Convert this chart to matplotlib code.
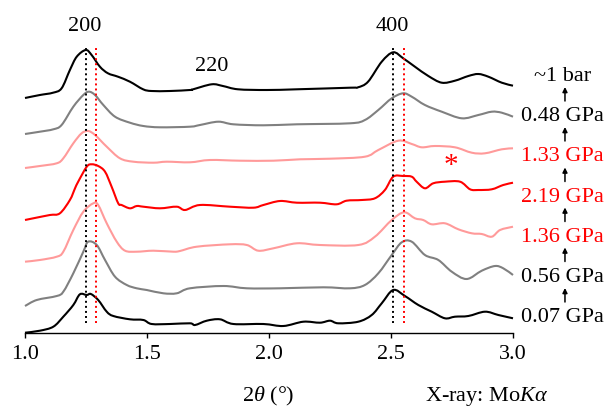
import matplotlib
matplotlib.use("Agg")
import matplotlib.pyplot as plt
from matplotlib.path import Path
from matplotlib.patches import PathPatch

plt.rcParams['font.family'] = ['Liberation Serif', 'DejaVu Serif']
plt.rcParams['mathtext.fontset'] = 'custom'
plt.rcParams['mathtext.rm'] = 'Liberation Serif'
plt.rcParams['mathtext.it'] = 'Liberation Serif:italic'

# XRD scans, 2theta (deg) and intensity (arb. units), bottom to top of the stack
tt_007 = [1.00, 1.061, 1.116, 1.157, 1.198, 1.225, 1.253, 1.270, 1.300, 1.335, 1.362, 1.430, 1.485,
          1.519, 1.594, 1.676, 1.697, 1.745, 1.799, 1.854, 1.977, 2.059, 2.141, 2.209, 2.250, 2.284,
          2.366, 2.421, 2.462, 2.509, 2.557, 2.612, 2.667, 2.721, 2.762, 2.817, 2.885, 2.940, 3.00]
int_007 = [0.3, 2.3, 6.3, 16.3, 28, 38.7, 38, 39, 33, 21.3, 17, 13.7, 13,
           9, 9, 9.7, 8, 12.3, 13.7, 9, 9, 7, 11.3, 10.3, 12.3, 9.7,
           11.3, 18, 29.7, 43, 37, 28, 21.3, 14.7, 16.3, 17, 21.3, 18, 14.7]

tt_056 = [1.00, 1.048, 1.130, 1.157, 1.198, 1.239, 1.259, 1.294, 1.328, 1.369, 1.417, 1.458, 1.499,
          1.567, 1.622, 1.676, 1.813, 1.909, 2.045, 2.223, 2.332, 2.393, 2.448, 2.503, 2.544, 2.585,
          2.639, 2.694, 2.749, 2.810, 2.872, 2.926, 2.960, 3.00]
int_056 = [0, 6, 10, 14.3, 32.7, 54.3, 64.3, 61, 46, 29.3, 21, 17.7, 16,
           12.7, 12.7, 17.7, 20, 17.7, 17.7, 18.7, 17.7, 21, 32.7, 51, 63.7, 64.3,
           51, 46, 34.3, 27, 35.3, 40, 37.7, 31]

tt_136 = [1.00, 1.061, 1.130, 1.157, 1.198, 1.239, 1.280, 1.300, 1.335, 1.376, 1.410, 1.458, 1.526,
          1.608, 1.635, 1.704, 1.840, 1.909, 1.956, 2.018, 2.114, 2.209, 2.366, 2.434, 2.503, 2.554,
          2.598, 2.632, 2.667, 2.721, 2.776, 2.831, 2.872, 2.913, 2.947, 3.00]
int_136 = [0.3, 2, 5.3, 10.3, 32, 50.3, 58.7, 57, 38.7, 20.3, 11.3, 10.3, 11.3,
           10.3, 11, 15.3, 17.7, 17, 11.3, 13.7, 18.7, 17, 17, 25.3, 42, 49.7,
           43.7, 42, 37.7, 38.7, 32.7, 28.7, 28, 25.3, 32, 35.3]

tt_219 = [1.00, 1.034, 1.102, 1.143, 1.184, 1.205, 1.218, 1.253, 1.273, 1.300, 1.328, 1.355, 1.382,
          1.396, 1.430, 1.458, 1.485, 1.553, 1.622, 1.656, 1.717, 1.840, 1.936, 1.977, 2.045, 2.114,
          2.209, 2.277, 2.318, 2.380, 2.434, 2.475, 2.509, 2.550, 2.585, 2.605, 2.639, 2.673, 2.721,
          2.783, 2.824, 2.858, 2.913, 2.960, 3.00]
int_219 = [0, 1.7, 5, 6.7, 20, 31.7, 38.3, 53.3, 55.7, 54, 48.3, 33.3, 16.7,
           15, 11.7, 14, 13.3, 11.7, 13.3, 10, 15, 13.3, 12.3, 15, 19, 17.3,
           17.3, 15.7, 19.3, 20, 21.7, 30, 43.3, 44, 43.3, 38.3, 31.7, 36.7, 38.3,
           38.3, 30.7, 30, 30.7, 35, 37.3]

tt_133 = [1.00, 1.061, 1.130, 1.157, 1.198, 1.232, 1.259, 1.287, 1.335, 1.389, 1.444, 1.526, 1.581,
          1.676, 1.758, 1.881, 2.018, 2.127, 2.250, 2.393, 2.448, 2.530, 2.585, 2.626, 2.680, 2.762,
          2.831, 2.885, 2.954, 3.00]
int_133 = [0, 2, 4.7, 9.7, 24.7, 34.7, 37, 33, 21.3, 9.7, 6.3, 5.3, 6.3,
           5.7, 8, 7.3, 7.3, 8.7, 9.3, 11.3, 18, 27.3, 24, 20.7, 22, 20.7,
           15.3, 14.7, 18.7, 19.7]

tt_048 = [1.00, 1.061, 1.116, 1.150, 1.198, 1.239, 1.262, 1.287, 1.321, 1.369, 1.430, 1.485, 1.553,
          1.676, 1.717, 1.792, 1.854, 1.977, 2.114, 2.332, 2.393, 2.448, 2.503, 2.550, 2.585, 2.639,
          2.708, 2.790, 2.858, 2.913, 2.954, 3.00]
int_048 = [0, 2.3, 4.7, 9, 27.3, 39, 42.3, 39, 29, 17.3, 11.3, 8, 6.7,
           7.3, 9, 12.3, 9.7, 8.7, 9.7, 10.7, 14, 24, 35.7, 40.7, 37.3, 29,
           22.3, 15.7, 19, 22.3, 21.3, 17.3]

tt_amb = [1.00, 1.061, 1.115, 1.150, 1.184, 1.212, 1.249, 1.273, 1.307, 1.340, 1.381, 1.430, 1.484,
          1.519, 1.594, 1.676, 1.689, 1.765, 1.811, 1.873, 1.991, 2.114, 2.332, 2.365, 2.406, 2.462,
          2.509, 2.550, 2.598, 2.653, 2.708, 2.762, 2.817, 2.858, 2.899, 2.954, 3.00]
int_amb = [0, 3, 5.3, 9.7, 28, 41.3, 48, 43, 31.3, 24.7, 21.3, 16.3, 8.7,
           7, 7, 8, 8.7, 13.7, 12, 8.7, 8, 8.7, 10.3, 10.7, 16.3, 36.3,
           45.7, 39.7, 31.3, 22, 15.3, 17.3, 22, 24, 21.3, 15.3, 12.3]

scans_tt = [tt_007, tt_056, tt_136, tt_219, tt_133, tt_048, tt_amb]
scans_int = [int_007, int_056, int_136, int_219, int_133, int_048, int_amb]
pressures = ['0.07 GPa', '0.56 GPa', '1.36 GPa', '2.19 GPa', '1.33 GPa', '0.48 GPa', '~1 bar']
offsets = [0, 27, 71, 113, 165, 199, 235]
label_y = [11, 51.5, 91.5, 131.5, 172, 212, 252]

black = '#000000'
grey = '#808080'
pink = '#ff9a9a'
red = '#ff0000'
colors = [black, grey, pink, red, pink, grey, black]
text_colors = [black, black, red, red, red, black, black]

# peak positions at ambient and at high pressure
ref_200, hp_200 = 1.25, 1.29
ref_400, hp_400 = 2.51, 2.555


def smooth_path(xs, ys):
    # cubic Bezier segments through the points (Catmull-Rom tangents)
    pts = list(zip(xs, ys))
    n = len(pts)
    verts = [pts[0]]
    codes = [Path.MOVETO]
    for i in range(n - 1):
        p0 = pts[max(i - 1, 0)]
        p1 = pts[i]
        p2 = pts[i + 1]
        p3 = pts[min(i + 2, n - 1)]
        c1 = (p1[0] + (p2[0] - p0[0]) / 6, p1[1] + (p2[1] - p0[1]) / 6)
        c2 = (p2[0] - (p3[0] - p1[0]) / 6, p2[1] - (p3[1] - p1[1]) / 6)
        verts += [c1, c2, p2]
        codes += [Path.CURVE4, Path.CURVE4, Path.CURVE4]
    return Path(verts, codes)


fig = plt.figure(figsize=(6.09, 4.07), dpi=100)
ax = fig.add_axes([25 / 609, 74 / 407, 488 / 609, 333 / 407])

for tt, inten, off, c in zip(scans_tt, scans_int, offsets, colors):
    path = smooth_path(tt, [v + off for v in inten])
    ax.add_patch(PathPatch(path, fill=False, edgecolor=c, lw=1.5, joinstyle='round',
                           capstyle='butt', clip_on=False))

dots = (0, (1, 1.6))
for xv in (ref_200, ref_400):
    ax.plot([xv, xv], [10, 285], color=black, lw=1.4, linestyle=dots)
for xv in (hp_200, hp_400):
    ax.plot([xv, xv], [10, 285], color=red, lw=1.4, linestyle=dots)

fs = 16
ax.text(1.246, 302, '200', ha='center', va='baseline', fontsize=fs)
ax.text(1.766, 262, '220', ha='center', va='baseline', fontsize=fs)
ax.text(2.507, 302, '400', ha='center', va='baseline', fontsize=fs)
ax.text(2.745, 167, '*', ha='center', va='center', fontsize=21, color=red)

# pressure labels with arrows showing the order of the runs
lab_x = 3.203
arr_x = 3.213
for i, (lab, ly, tc) in enumerate(zip(pressures, label_y, text_colors)):
    ax.text(lab_x, ly, lab, ha='center', va='baseline', fontsize=fs, color=tc, clip_on=False)
    if i < len(pressures) - 1:
        ax.annotate('', xy=(arr_x, ly + 34), xytext=(arr_x, ly + 20),
                    arrowprops=dict(arrowstyle='-|>', color=black, lw=1.1, mutation_scale=7,
                                    shrinkA=0, shrinkB=0),
                    annotation_clip=False)

ax.set_xlim(1.0, 3.0)
ax.set_ylim(0, 333)
ax.set_xticks([1.0, 1.5, 2.0, 2.5, 3.0])
ax.set_xticklabels(['1.0', '1.5', '2.0', '2.5', '3.0'])
ax.set_yticks([])
for side in ('left', 'right', 'top'):
    ax.spines[side].set_visible(False)
ax.spines['bottom'].set_linewidth(1.0)
ax.tick_params(axis='x', direction='out', length=3.5, width=1.0, pad=5, labelsize=fs)

fig.text(268 / 609, 6 / 407, r'2$\theta$ (°)', ha='center', va='baseline', fontsize=fs)
fig.text(548 / 609, 6 / 407, r'X-ray: Mo$K\alpha$', ha='right', va='baseline', fontsize=fs)

fig.savefig('out.png', dpi=100)
